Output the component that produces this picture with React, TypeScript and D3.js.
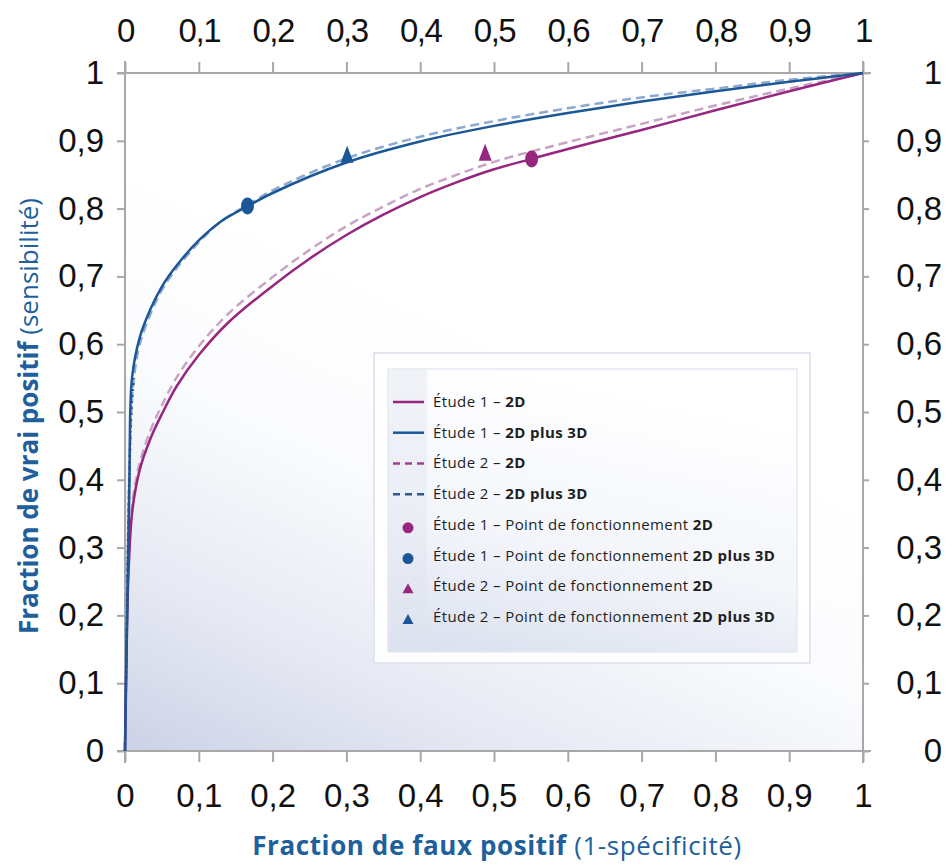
import React, { useRef, useEffect } from 'react'
import * as d3 from 'd3'

// ROC curves: [fraction de faux positif, fraction de vrai positif]
const etude1_2D = [
  [0, 0], [0.002, 0.15], [0.005, 0.27], [0.01, 0.355], [0.02, 0.415], [0.035, 0.462],
  [0.05, 0.497], [0.07, 0.538], [0.1, 0.584], [0.14, 0.632], [0.2, 0.686],
  [0.25, 0.726], [0.3, 0.761], [0.35, 0.791], [0.4, 0.817], [0.45, 0.839], [0.5, 0.858],
  [0.55, 0.873], [0.6, 0.888], [0.7, 0.916], [0.8, 0.945], [0.9, 0.973], [1, 1],
]
const etude1_2D3D = [
  [0, 0], [0.003, 0.2], [0.006, 0.4], [0.0095, 0.55], [0.02, 0.61], [0.035, 0.653],
  [0.05, 0.685], [0.07, 0.716], [0.1, 0.753], [0.13, 0.781], [0.167, 0.804], [0.2, 0.823],
  [0.3, 0.868], [0.4, 0.899], [0.5, 0.922], [0.6, 0.941], [0.7, 0.958], [0.8, 0.973],
  [0.9, 0.987], [1, 1],
]
const etude2_2D = [
  [0, 0], [0.002, 0.16], [0.005, 0.28], [0.01, 0.365], [0.02, 0.425], [0.035, 0.474],
  [0.05, 0.51], [0.07, 0.551], [0.1, 0.597], [0.14, 0.645], [0.2, 0.699],
  [0.25, 0.739], [0.3, 0.774], [0.35, 0.803], [0.4, 0.829], [0.45, 0.85], [0.5, 0.869],
  [0.55, 0.884], [0.6, 0.898], [0.7, 0.925], [0.8, 0.952], [0.9, 0.977], [1, 1],
]
const etude2_2D3D = [
  [0, 0], [0.004, 0.3], [0.0085, 0.5], [0.012, 0.55], [0.02, 0.6], [0.035, 0.646],
  [0.05, 0.68], [0.07, 0.712], [0.1, 0.75], [0.13, 0.781], [0.167, 0.806], [0.2, 0.827],
  [0.3, 0.874], [0.4, 0.906], [0.5, 0.929], [0.6, 0.948], [0.7, 0.964], [0.8, 0.977],
  [0.9, 0.99], [1, 1],
]

// points de fonctionnement
const pointsCercle = [
  { x: 0.551, y: 0.873, serie: 0 },
  { x: 0.166, y: 0.804, serie: 1 },
]
const pointsTriangle = [
  { x: 0.488, y: 0.883, serie: 0 },
  { x: 0.301, y: 0.88, serie: 1 },
]

const tickValues = [0, 0.1, 0.2, 0.3, 0.4, 0.5, 0.6, 0.7, 0.8, 0.9, 1]
const tickLabels = ['0', '0,1', '0,2', '0,3', '0,4', '0,5', '0,6', '0,7', '0,8', '0,9', '1']

const legendNormal = [
  'Étude 1 – ', 'Étude 1 – ', 'Étude 2 – ', 'Étude 2 – ',
  'Étude 1 – Point de fonctionnement ', 'Étude 1 – Point de fonctionnement ',
  'Étude 2 – Point de fonctionnement ', 'Étude 2 – Point de fonctionnement ',
]
const legendBold = ['2D', '2D plus 3D', '2D', '2D plus 3D', '2D', '2D plus 3D', '2D', '2D plus 3D']

const PURPLE = '#962680'
const BLUE = '#1b5796'
const TITLE_BLUE = '#215f9c'
const AXIS = '#a8a8a8'
const SANS = '"Open Sans", "Noto Sans", sans-serif'

const App = () => {
  const svgRef = useRef<SVGSVGElement>(null)

  function drawChart() {
    const svg = d3.select(svgRef.current)
    svg.selectAll('*').remove()

    const x = d3.scaleLinear().domain([0, 1]).range([125, 863])
    const y = d3.scaleLinear().domain([0, 1]).range([751, 73])

    const defs = svg.append('defs')
    const bg = defs.append('linearGradient').attr('id', 'bg')
      .attr('x1', 0).attr('y1', 1).attr('x2', 0.35).attr('y2', 0.3)
    bg.append('stop').attr('offset', 0).attr('stop-color', '#ccd2e7')
    bg.append('stop').attr('offset', 0.3).attr('stop-color', '#e6e9f3')
    bg.append('stop').attr('offset', 0.65).attr('stop-color', '#fafbfd')
    bg.append('stop').attr('offset', 1).attr('stop-color', '#ffffff')

    const lg = defs.append('linearGradient').attr('id', 'lg')
      .attr('x1', 0.3).attr('y1', 0).attr('x2', 0).attr('y2', 1)
    lg.append('stop').attr('offset', 0).attr('stop-color', '#ffffff')
    lg.append('stop').attr('offset', 0.55).attr('stop-color', '#f3f5fa')
    lg.append('stop').attr('offset', 1).attr('stop-color', '#d9dfee')

    svg.append('rect').attr('width', 950).attr('height', 867).attr('fill', '#fff')

    // fond du graphique
    svg.append('rect')
      .attr('x', x(0)).attr('y', y(1))
      .attr('width', x(1) - x(0)).attr('height', y(0) - y(1))
      .attr('fill', 'url(#bg)')

    // axes
    const fmt = (d: number) => tickLabels[tickValues.indexOf(d)]
    const axisStyle = (g: any) => {
      g.select('.domain').remove()
      g.selectAll('line').attr('stroke', AXIS).attr('stroke-width', 2)
      g.selectAll('text')
        .attr('font-family', '"Liberation Sans", Arial, sans-serif')
        .attr('font-size', 33).attr('fill', '#111')
    }

    svg.append('g').attr('transform', `translate(0,${y(1)})`)
      .call(d3.axisTop(x).tickValues(tickValues).tickFormat(fmt).tickSize(11).tickPadding(20))
      .call(axisStyle)
      .call((g: any) => g.selectAll('text').attr('letter-spacing', -1.5))

    svg.append('g').attr('transform', `translate(0,${y(0)})`)
      .call(d3.axisBottom(x).tickValues(tickValues).tickFormat(fmt).tickSize(11).tickPadding(22))
      .call(axisStyle)

    svg.append('g').attr('transform', `translate(${x(0)},0)`)
      .call(d3.axisLeft(y).tickValues(tickValues).tickFormat(fmt).tickSize(8).tickPadding(13))
      .call(axisStyle)

    svg.append('g').attr('transform', `translate(${x(1)},0)`)
      .call(d3.axisRight(y).tickValues(tickValues).tickFormat(fmt).tickSize(6).tickPadding(73))
      .call(axisStyle)
      .call((g: any) => g.selectAll('text').attr('text-anchor', 'end'))

    // cadre, un peu plus long que la zone de tracé
    const frame = svg.append('g').attr('stroke', AXIS).attr('stroke-width', 2)
    frame.append('line').attr('x1', x(0) - 8).attr('x2', x(1) + 8).attr('y1', y(1)).attr('y2', y(1))
    frame.append('line').attr('x1', x(0) - 8).attr('x2', x(1) + 8).attr('y1', y(0)).attr('y2', y(0))
    frame.append('line').attr('x1', x(0)).attr('x2', x(0)).attr('y1', y(1) - 12).attr('y2', y(0) + 12)
    frame.append('line').attr('x1', x(1)).attr('x2', x(1)).attr('y1', y(1) - 12).attr('y2', y(0) + 12)

    // courbes
    const line = d3.line<number[]>()
      .x(d => x(d[0]))
      .y(d => y(d[1]))
      .curve(d3.curveCatmullRom.alpha(0.5))

    const curves = [
      { data: etude2_2D, color: '#c9a3c5', dash: '9,5' },
      { data: etude2_2D3D, color: '#8ea9d1', dash: '9,5' },
      { data: etude1_2D, color: PURPLE, dash: null },
      { data: etude1_2D3D, color: BLUE, dash: null },
    ]
    curves.forEach(c => {
      svg.append('path')
        .datum(c.data)
        .attr('fill', 'none')
        .attr('stroke', c.color)
        .attr('stroke-width', 2.5)
        .attr('stroke-dasharray', c.dash)
        .attr('d', line)
    })
    // pointillé sombre le long de l'axe (Étude 2 – 2D plus 3D)
    svg.append('path')
      .datum(etude2_2D3D.filter(d => d[1] <= 0.55))
      .attr('fill', 'none')
      .attr('stroke', '#2b4f8c')
      .attr('stroke-width', 2.5)
      .attr('stroke-dasharray', '2,4')
      .attr('d', line)

    const colors = [PURPLE, BLUE]
    svg.append('g').selectAll('ellipse')
      .data(pointsCercle)
      .enter()
      .append('ellipse')
      .attr('cx', d => x(d.x))
      .attr('cy', d => y(d.y))
      .attr('rx', 6.5)
      .attr('ry', 8.5)
      .attr('fill', d => colors[d.serie])

    const tri = (cx: number, cy: number, w: number, h: number) =>
      `M${cx},${cy - h / 2}L${cx + w / 2},${cy + h / 2}L${cx - w / 2},${cy + h / 2}Z`
    svg.append('g').selectAll('path')
      .data(pointsTriangle)
      .enter()
      .append('path')
      .attr('d', d => tri(x(d.x), y(d.y), 13, 17))
      .attr('fill', d => colors[d.serie])

    // légende
    const leg = svg.append('g')
    leg.append('rect').attr('x', 374).attr('y', 353).attr('width', 436).attr('height', 310)
      .attr('fill', '#fff').attr('stroke', '#e3e6f0').attr('stroke-width', 2)
    leg.append('rect').attr('x', 388).attr('y', 369).attr('width', 409).attr('height', 283)
      .attr('fill', 'url(#lg)').attr('stroke', '#e6e9f2').attr('stroke-width', 1.5)
    leg.append('rect').attr('x', 389).attr('y', 370).attr('width', 38).attr('height', 281)
      .attr('fill', '#dfe4f0').attr('opacity', 0.45)

    const rowY = d3.scaleLinear().domain([0, 7]).range([402, 617])
    const legStyles = [
      { color: PURPLE, dash: null },
      { color: BLUE, dash: null },
      { color: '#a0408e', dash: '7,5' },
      { color: '#2a5990', dash: '7,5' },
    ]
    legendNormal.forEach((txt, i) => {
      const cy = rowY(i)
      if (i < 4) {
        leg.append('line')
          .attr('x1', 393).attr('x2', 424).attr('y1', cy).attr('y2', cy)
          .attr('stroke', legStyles[i].color).attr('stroke-width', 2.5)
          .attr('stroke-dasharray', legStyles[i].dash)
      } else if (i < 6) {
        leg.append('circle').attr('cx', 408).attr('cy', cy + 3).attr('r', 5.5)
          .attr('fill', colors[i - 4])
      } else {
        leg.append('path').attr('d', tri(408, cy + 2, 11, 10)).attr('fill', colors[i - 6])
      }
      const t = leg.append('text')
        .attr('x', 433).attr('y', cy + 5)
        .attr('font-family', SANS)
        .attr('font-size', 15)
        .attr('letter-spacing', 0.4)
        .attr('fill', '#1e1e1e')
      t.append('tspan').text(txt)
      t.append('tspan').attr('font-weight', 'bold').text(legendBold[i])
    })

    // titres des axes
    const xt = svg.append('text')
      .attr('x', 497).attr('y', 855)
      .attr('text-anchor', 'middle')
      .attr('font-family', SANS)
      .attr('font-size', 26)
      .attr('letter-spacing', 0.6)
      .attr('fill', TITLE_BLUE)
    xt.append('tspan').attr('font-weight', 'bold').text('Fraction de faux positif')
    xt.append('tspan').text(' (1-spécificité)')

    const yt = svg.append('text')
      .attr('transform', 'translate(38,416) rotate(-90)')
      .attr('text-anchor', 'middle')
      .attr('font-family', SANS)
      .attr('font-size', 26)
      .attr('fill', TITLE_BLUE)
    yt.append('tspan').attr('font-weight', 'bold').text('Fraction de vrai positif')
    yt.append('tspan').text(' (sensibilité)')
  }

  useEffect(() => {
    drawChart()
  }, [])

  return (
    <svg
      ref={svgRef}
      width={950}
      height={867}
      style={{ position: 'absolute', left: 0, top: 0 }}
    />
  )
}

export default App
